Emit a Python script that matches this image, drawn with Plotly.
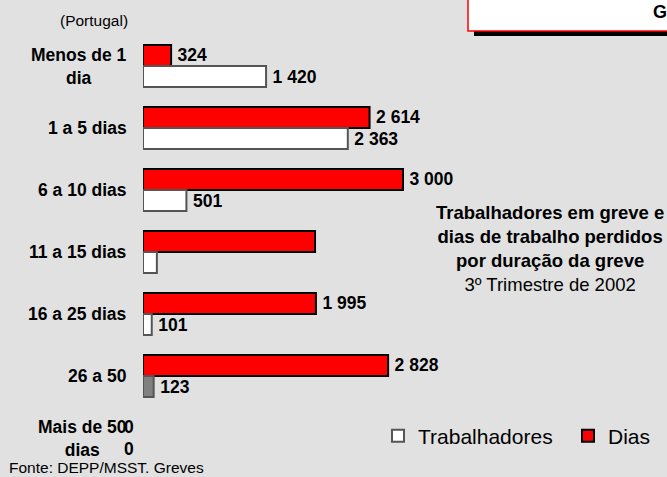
import plotly.graph_objects as go

# dados (Portugal, 3º Trimestre de 2002)
categorias = ["Menos de 1 dia", "1 a 5 dias", "6 a 10 dias", "11 a 15 dias",
              "16 a 25 dias", "26 a 50", "Mais de 50 dias"]
rotulos = ["Menos de 1<br>dia", "1 a 5 dias", "6 a 10 dias", "11 a 15 dias",
           "16 a 25 dias", "26 a 50", "Mais de 50<br>dias"]
dias = [324, 2614, 3000, 1985, 1995, 2828, 0]
trabalhadores = [1420, 2363, 501, 160, 101, 123, 0]
dias_txt = ["324", "2 614", "3 000", "", "1 995", "2 828", "0"]
trab_txt = ["1 420", "2 363", "501", "", "101", "123", "0"]
trab_cores = ["white", "white", "white", "white", "white", "#808080", "white"]

W, H = 667, 477
ML, MR, MT, MB = 143, 0, 35, 8
FONT = "Liberation Sans, Arial, sans-serif"


def px(x):
    return (x - ML) / (W - ML - MR)


def py(y):
    return (H - MB - y) / (H - MT - MB)


# barras de valor zero: sem contorno, e o rótulo vai à esquerda do eixo (como no original)
def contorno(vals, w):
    return [w if v > 0 else 0 for v in vals]


def so_positivos(vals, txt):
    return [t if v > 0 else "" for v, t in zip(vals, txt)]


fig = go.Figure()
fig.add_trace(go.Bar(
    y=categorias, x=dias, orientation="h", name="Dias", legend="legend2",
    marker=dict(color="#ff0000", line=dict(color="black", width=contorno(dias, 2))),
    text=so_positivos(dias, dias_txt), texttemplate="\u2009%{text}",
    textposition="outside", cliponaxis=False,
    textfont=dict(family=FONT, size=17.5, color="black", weight="bold"),
))
fig.add_trace(go.Bar(
    y=categorias, x=trabalhadores, orientation="h", name="Trabalhadores", legend="legend",
    marker=dict(color=trab_cores, line=dict(color="#555555", width=contorno(trabalhadores, 2))),
    text=so_positivos(trabalhadores, trab_txt), texttemplate="\u2009%{text}",
    textposition="outside", cliponaxis=False,
    textfont=dict(family=FONT, size=17.5, color="black", weight="bold"),
))

anns = []
for c, r in zip(categorias, rotulos):
    anns.append(dict(x=px(129), y=c, xref="paper", yref="y", xanchor="right",
                     yanchor="middle", align="center", showarrow=False,
                     text="<b>" + r + "</b>", font=dict(size=17.5)))

# rótulos "0"
for vals, txt, dy in ((dias, dias_txt, 11), (trabalhadores, trab_txt, -11)):
    for c, v, t in zip(categorias, vals, txt):
        if v == 0:
            anns.append(dict(x=v, y=c, xref="x", yref="y", xanchor="right", xshift=-7,
                             yanchor="middle", yshift=dy, showarrow=False,
                             text="<b>" + t + "</b>", font=dict(size=17.5)))

anns.append(dict(x=px(130), y=py(20), xref="paper", yref="paper", xanchor="right",
                 yanchor="middle", showarrow=False, text="(Portugal)", font=dict(size=15.5)))
anns.append(dict(x=px(7), y=py(467), xref="paper", yref="paper", xanchor="left",
                 yanchor="middle", showarrow=False, text="Fonte: DEPP/MSST. Greves",
                 font=dict(size=15.5)))
anns.append(dict(x=px(550), y=py(248), xref="paper", yref="paper", xanchor="center",
                 yanchor="middle", align="center", showarrow=False,
                 text="<b>Trabalhadores em greve e<br>dias de trabalho perdidos<br>"
                      "por duração da greve</b><br>3º Trimestre de 2002",
                 font=dict(size=18.5)))
anns.append(dict(x=px(651), y=py(12), xref="paper", yref="paper", xanchor="left",
                 yanchor="middle", showarrow=False, text="<b>G</b>", font=dict(size=18)))

shapes = [
    dict(type="rect", xref="paper", yref="paper", x0=px(474), x1=px(672),
         y0=py(36), y1=py(30), fillcolor="black", line=dict(width=0)),
    dict(type="rect", xref="paper", yref="paper", x0=px(468), x1=px(672),
         y0=py(31), y1=py(-5), fillcolor="white", line=dict(color="red", width=1.5)),
]

leg = dict(orientation="h", xanchor="left", yanchor="middle", y=py(436),
           font=dict(size=21), bgcolor="rgba(0,0,0,0)")

fig.update_layout(
    width=W, height=H,
    margin=dict(l=ML, r=MR, t=MT, b=MB),
    paper_bgcolor="#e1e1e1", plot_bgcolor="#e1e1e1",
    font=dict(family=FONT, color="black"),
    barmode="group", bargap=0.32, bargroupgap=0,
    xaxis=dict(range=[0, 3000 * (W - ML - MR) / 260], visible=False, fixedrange=True),
    yaxis=dict(categoryorder="array", categoryarray=categorias, range=[6.5, -0.5],
               visible=False, fixedrange=True),
    showlegend=True,
    legend=dict(leg, x=px(378)),
    legend2=dict(leg, x=px(568)),
    annotations=anns, shapes=shapes,
)

fig.write_html("out.html", config={"displayModeBar": False},
               post_script="document.body.style.margin='0';"
                           "document.body.style.overflow='hidden';")
